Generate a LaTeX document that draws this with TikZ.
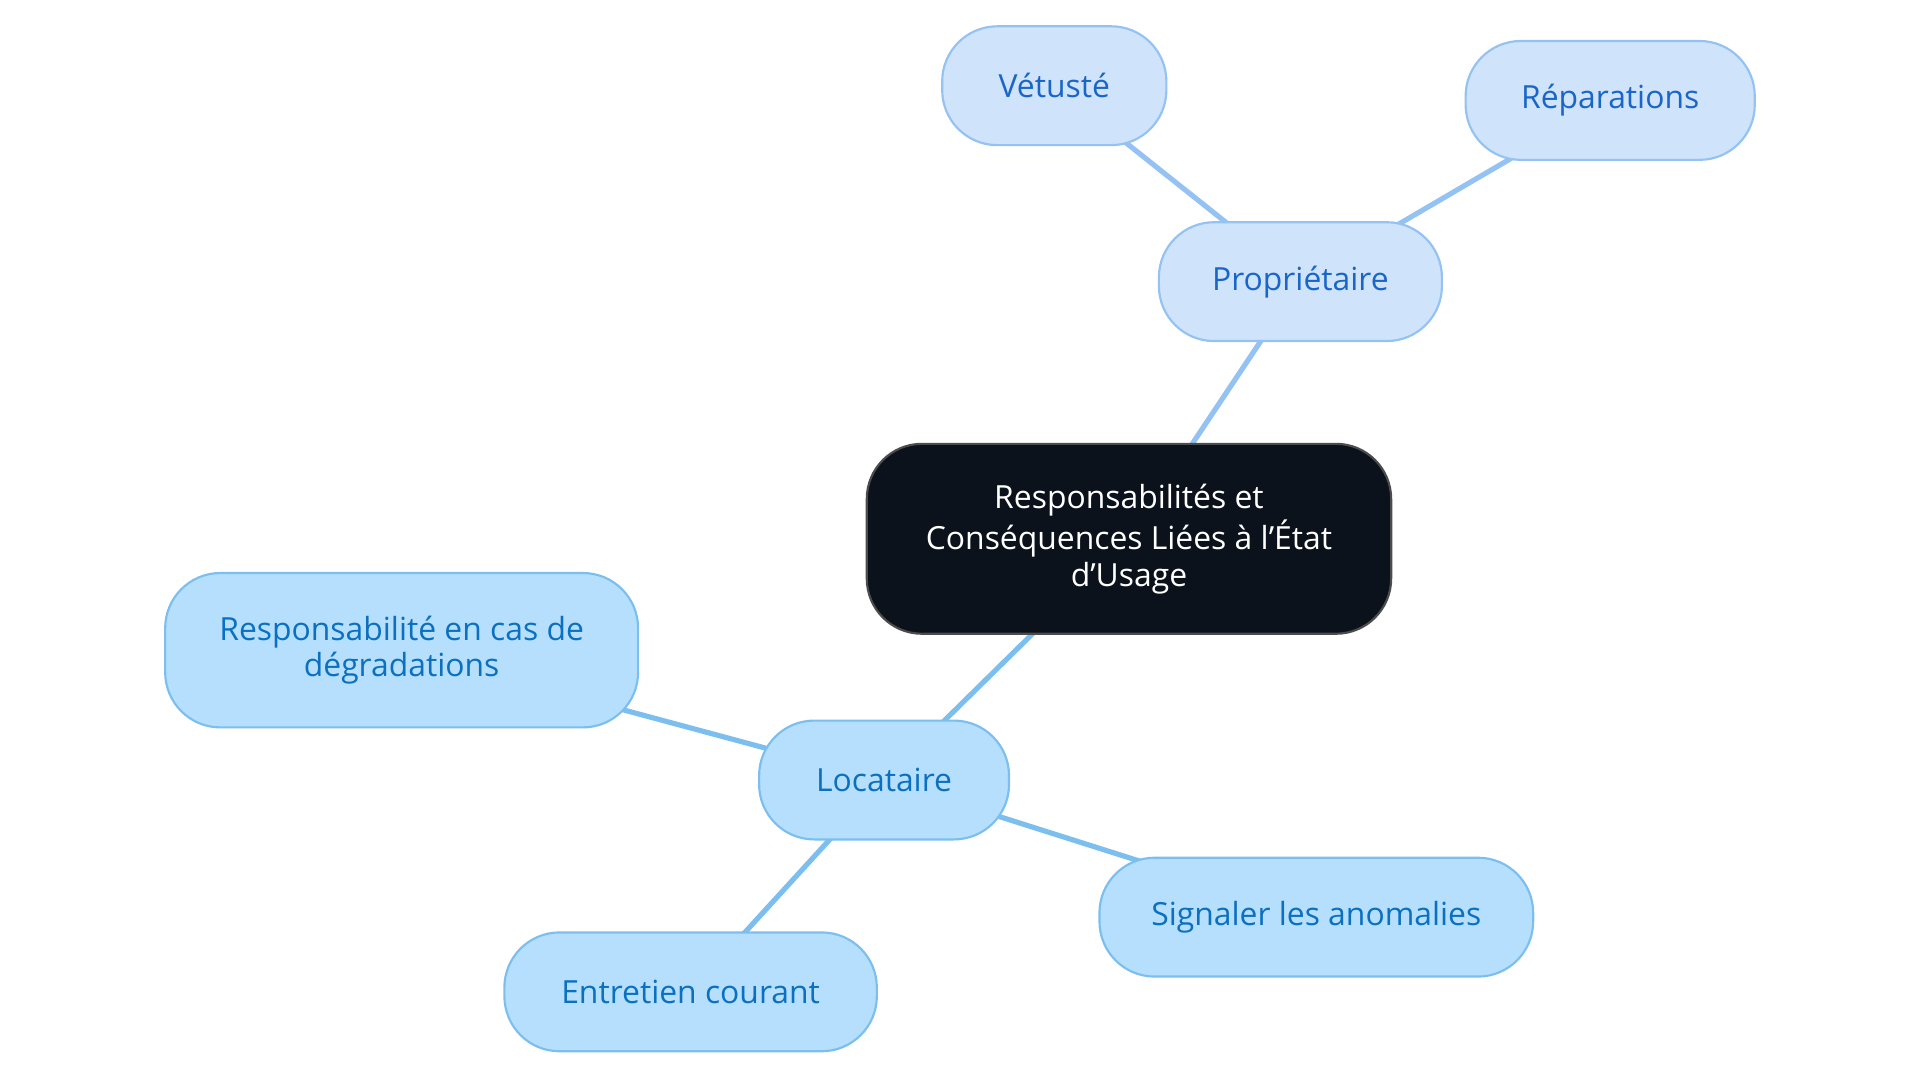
\documentclass[tikz,border=0pt]{standalone}
\usepackage{fontspec}
\setmainfont{Open Sans}
\definecolor{rootfill}{HTML}{0B121C}
\definecolor{ownfill}{HTML}{CFE3FB}
\definecolor{owndraw}{HTML}{94C2F2}
\definecolor{owntext}{HTML}{1A66C8}
\definecolor{tenfill}{HTML}{B5DFFD}
\definecolor{tendraw}{HTML}{7CBFEF}
\definecolor{tentext}{HTML}{0B70C0}
\tikzset{
  box/.style={rounded corners=0.45cm, align=center, inner sep=0pt,
    font=\fontsize{7.4}{8.4}\selectfont, line width=0.5pt},
  root/.style={box, fill=rootfill, draw=black!70, text=white},
  own/.style={box, fill=ownfill, draw=owndraw, text=owntext},
  ten/.style={box, fill=tenfill, draw=tendraw, text=tentext},
}
\begin{document}
\begin{tikzpicture}[x=0.01cm,y=-0.01cm]
	\useasboundingbox (0,0) rectangle (1568,884);
	\path (922,440) coordinate (r);
	\path (1062,230) coordinate (p);
	\path (861,70) coordinate (v);
	\path (1315,82) coordinate (rp);
	\path (722,637) coordinate (l);
	\path (328,531) coordinate (rd);
	\path (1075,749) coordinate (s);
	\path (564,810) coordinate (e);

	\path[-, draw=owndraw, line width=1.2pt] (r) edge (p) (p) edge (v) (p) edge (rp);
	\path[-, draw=tendraw, line width=1.2pt] (r) edge (l) (l) edge (rd) (l) edge (s) (l) edge (e);

	\node[root, minimum width=4.28cm, minimum height=1.55cm] (root) at (r) {Responsabilités et\\Conséquences Liées à l'État\\d'Usage};
	\node[own, minimum width=2.31cm, minimum height=0.97cm] (prop) at (p) {Propriétaire};
	\node[own, minimum width=1.83cm, minimum height=0.97cm] (vet) at (v) {Vétusté};
	\node[own, minimum width=2.36cm, minimum height=0.97cm] (rep) at (rp) {Réparations};
	\node[ten, minimum width=2.04cm, minimum height=0.97cm] (loc) at (l) {Locataire};
	\node[ten, minimum width=3.86cm, minimum height=1.26cm] (deg) at (rd) {Responsabilité en cas de\\dégradations};
	\node[ten, minimum width=3.54cm, minimum height=0.97cm] (sig) at (s) {Signaler les anomalies};
	\node[ten, minimum width=3.04cm, minimum height=0.97cm] (ent) at (e) {Entretien courant};
\end{tikzpicture}
\end{document}
